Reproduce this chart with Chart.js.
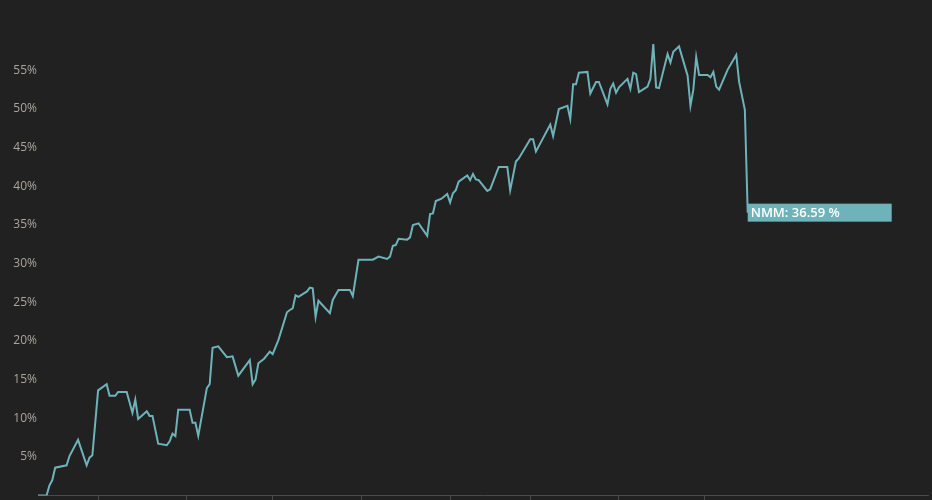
<!DOCTYPE html>
<html>
<head>
<meta charset="utf-8">
<script src="https://cdn.jsdelivr.net/npm/chart.js@4.4.1/dist/chart.umd.min.js"></script>
<style>
  html, body { margin: 0; padding: 0; background: #212121; }
  #wrap { width: 932px; height: 500px; }
</style>
</head>
<body>
<div id="wrap"><canvas id="chart" width="932" height="500"></canvas></div>
<script>
// days counted from 1 Oct, value in %
const seriesName = 'NMM';
const days = [
  -21, -18, -17, -16, -15, -11, -10, -7, -4, -3, -2, 0, 3, 4, 6, 7, 10, 12, 13, 14,
  17, 18, 19, 21, 24, 25, 26, 27, 28, 32, 33, 34, 35, 38, 39, 40, 42, 45, 47, 49,
  53, 54, 55, 56, 58, 60, 61, 63, 66, 67, 68, 69, 70, 73, 74, 75, 76, 77, 81, 82,
  84, 88, 89, 91, 96, 98, 101, 102, 103, 104, 105, 108, 109, 110, 112, 115, 116, 117, 118, 120,
  122, 123, 124, 125, 126, 129, 130, 131, 132, 133, 136, 137, 140, 143, 144, 146, 147, 151, 152, 153,
  154, 158, 159, 161, 164, 165, 166, 167, 168, 171, 172, 174, 175, 178, 179, 180, 181, 182, 185, 186,
  187, 188, 189, 192, 193, 194, 195, 196, 199, 200, 201, 203, 206, 207, 208, 209, 210, 213, 214, 215,
  216, 217, 220, 223, 224, 226, 227
];
const values = [
  0.0, 0.0, 1.3, 2.0, 3.6, 3.9, 5.1, 7.2, 3.9, 4.9, 5.2, 13.6, 14.4, 12.9, 12.9, 13.4, 13.4, 10.7, 12.4, 9.9,
  10.9, 10.3, 10.3, 6.7, 6.5, 7.0, 8.0, 7.7, 11.1, 11.1, 9.4, 9.4, 7.7, 13.9, 14.4, 19.1, 19.3, 17.9, 18.0, 15.5,
  17.5, 14.4, 15.0, 17.1, 17.7, 18.6, 18.3, 20.1, 23.7, 24.0, 24.2, 25.9, 25.7, 26.4, 26.9, 26.8, 23.1, 25.2, 23.6, 25.3,
  26.6, 26.6, 25.8, 30.5, 30.5, 30.9, 30.6, 30.9, 32.3, 32.4, 33.2, 33.1, 33.4, 35.0, 35.2, 33.6, 36.4, 36.5, 38.1, 38.4,
  39.0, 37.9, 39.1, 39.5, 40.6, 41.4, 40.8, 41.6, 40.9, 40.8, 39.4, 39.6, 42.5, 42.5, 39.5, 43.2, 43.6, 46.1, 46.1, 44.5,
  45.2, 48.0, 46.5, 50.0, 50.4, 48.7, 53.2, 53.2, 54.7, 54.8, 52.0, 53.5, 53.5, 50.6, 52.6, 53.3, 52.1, 52.8, 53.9, 52.6,
  54.7, 54.5, 52.2, 52.9, 53.9, 58.4, 52.8, 52.7, 57.1, 56.0, 57.4, 58.1, 54.3, 50.4, 52.5, 56.7, 54.4, 54.4, 54.1, 54.8,
  52.9, 52.5, 55.1, 57.0, 53.5, 49.9, 36.59
];
// month starts (Oct .. May) for the x tick marks
const monthStarts = [0, 31, 61, 92, 123, 151, 182, 212];
const yTicks = [5, 10, 15, 20, 25, 30, 35, 40, 45, 50, 55];

const lineColor = '#6fb3ba';

const endLabel = {
  id: 'endLabel',
  afterDatasetsDraw(chart) {
    const meta = chart.getDatasetMeta(0);
    const last = meta.data[meta.data.length - 1];
    const v = values[values.length - 1];
    const ctx = chart.ctx;
    ctx.save();
    ctx.fillStyle = lineColor;
    ctx.fillRect(last.x, last.y - 9, 144, 18);
    ctx.fillStyle = '#ffffff';
    ctx.font = '600 13px "Open Sans"';
    ctx.textBaseline = 'middle';
    ctx.fillText(seriesName + ': ' + v.toFixed(2) + ' %', last.x + 3, last.y + 1);
    ctx.restore();
  }
};

new Chart(document.getElementById('chart'), {
  type: 'line',
  data: {
    datasets: [{
      label: seriesName,
      data: days.map((d, i) => ({ x: d, y: values[i] })),
      borderColor: lineColor,
      borderWidth: 2,
      pointRadius: 0,
      tension: 0,
      fill: false
    }]
  },
  options: {
    responsive: false,
    animation: false,
    layout: { padding: { top: 31.7, right: 4, bottom: 0, left: 0 } },
    plugins: {
      legend: { display: false },
      tooltip: { enabled: false }
    },
    scales: {
      x: {
        type: 'linear',
        min: -21,
        max: 290,
        afterBuildTicks: s => { s.ticks = monthStarts.map(v => ({ value: v })); },
        afterFit: s => { s.height = 4.5; s.paddingLeft = 0; s.paddingRight = 0; },
        ticks: { display: false },
        grid: { drawOnChartArea: false, color: '#4a4a4a', tickLength: 5 },
        border: { color: '#4a4a4a' }
      },
      y: {
        min: 0,
        max: 60,
        afterBuildTicks: s => { s.ticks = yTicks.map(v => ({ value: v })); },
        afterFit: s => { s.width = 38; s.paddingTop = 0; s.paddingBottom = 0; },
        ticks: {
          color: '#aba59c',
          padding: 1,
          font: { family: '"Open Sans"', size: 12 },
          callback: v => v + '%'
        },
        grid: { display: false, drawTicks: false },
        border: { display: false }
      }
    }
  },
  plugins: [endLabel]
});
</script>
</body>
</html>
